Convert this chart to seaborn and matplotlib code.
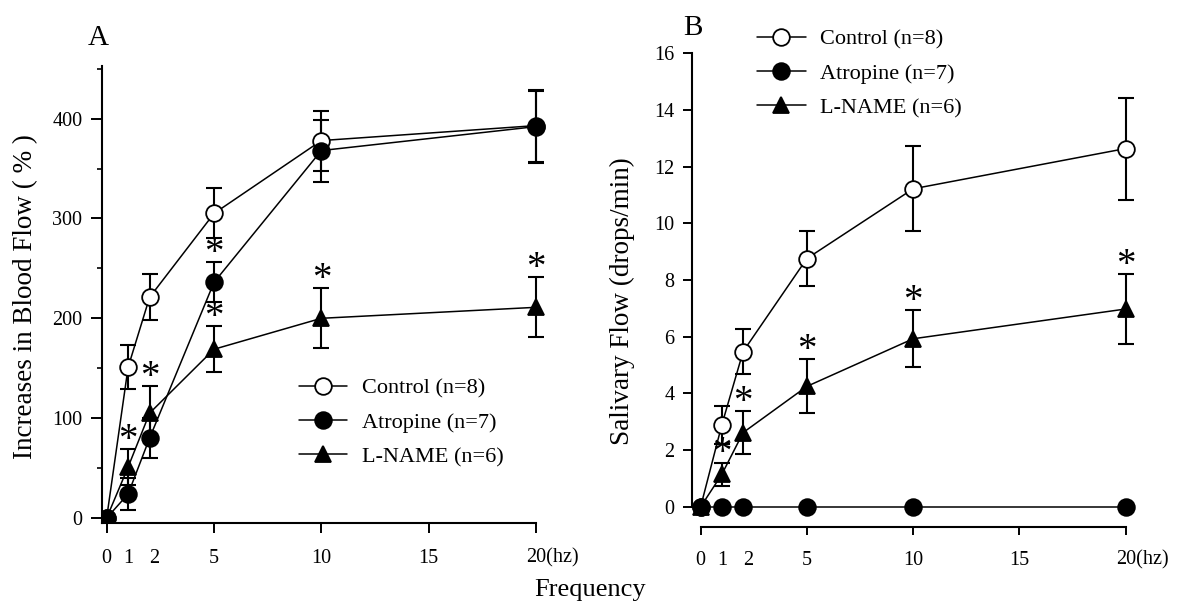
import matplotlib
matplotlib.use("Agg")
import matplotlib.pyplot as plt
import matplotlib.transforms as mtrans
import seaborn as sns

# ---------------- data ----------------
freq = [0, 1, 2, 5, 10, 20]
series = ["Control (n=8)", "Atropine (n=7)", "L-NAME (n=6)"]

# Panel A: increases in blood flow (%)
ctrl_A = [0, 151, 221, 305, 378, 393]
ctrl_A_err = [0, 22, 23, 25, 30, 36]
atr_A = [0, 24, 80, 236, 368, 392]
atr_A_err = [0, 16, 20, 20, 31, 36]
lname_A = [0, 51, 105, 169, 200, 211]
lname_A_err = [0, 18, 27, 23, 30, 30]

# Panel B: salivary flow (drops/min)
ctrl_B = [0, 2.9, 5.48, 8.76, 11.22, 12.64]
ctrl_B_err = [0, 0.67, 0.8, 0.97, 1.5, 1.8]
atr_B = [0, 0, 0, 0, 0, 0]
atr_B_err = [0, 0, 0, 0, 0, 0]
lname_B = [0, 1.15, 2.62, 4.25, 5.93, 6.98]
lname_B_err = [0, 0.41, 0.75, 0.95, 1.0, 1.23]

# significance marks (frequency values flagged with *)
sig_A = {"Atropine (n=7)": [5], "L-NAME (n=6)": [1, 2, 5, 10, 20]}
sig_B = {"L-NAME (n=6)": [1, 2, 5, 10, 20]}

xtick_vals = [0, 1, 2, 5, 10, 15, 20]
xtick_labels = ["0", "1", "2", "5", "10", "15", "20(hz)"]

# ---------------- style ----------------
sns.set_style("ticks")
plt.rcParams['font.family'] = ['Liberation Serif', 'DejaVu Serif']
plt.rcParams['axes.linewidth'] = 1.5
for k in ['text.color', 'axes.labelcolor', 'xtick.color', 'ytick.color',
          'axes.edgecolor']:
    plt.rcParams[k] = 'black'

styles = {
    "Control (n=8)": dict(marker="o", markerfacecolor="white"),
    "Atropine (n=7)": dict(marker="o", markerfacecolor="black"),
    "L-NAME (n=6)": dict(marker="^", markerfacecolor="black"),
}

fig = plt.figure(figsize=(11.84, 6.07), dpi=100)
axA = fig.add_axes([0.0859, 0.1384, 0.385, 0.7534])
axB = fig.add_axes([0.5842, 0.1318, 0.3845, 0.7804])


def draw(ax, data, sig):
    handles = []
    for name, (m, e) in data.items():
        ax.errorbar(freq, m, yerr=e, fmt="none", ecolor="black",
                    elinewidth=1.5, capsize=6, capthick=1.5, zorder=2)
        sns.lineplot(x=freq, y=m, ax=ax, color="black", linewidth=1.1,
                     markersize=12, markeredgecolor="black",
                     markeredgewidth=1.3, zorder=3, **styles[name])
        line = ax.lines[-1]
        line.set_label(name)
        handles.append(line)
    for name, xs in sig.items():
        m, e = data[name]
        for xv in xs:
            i = freq.index(xv)
            ax.annotate("*", (xv, m[i] + e[i]), xytext=(0, -0.5),
                        textcoords="offset points", ha="center",
                        va="baseline", fontsize=28)
    return handles


hA = draw(axA, {series[0]: (ctrl_A, ctrl_A_err),
                series[1]: (atr_A, atr_A_err),
                series[2]: (lname_A, lname_A_err)}, sig_A)
hB = draw(axB, {series[0]: (ctrl_B, ctrl_B_err),
                series[1]: (atr_B, atr_B_err),
                series[2]: (lname_B, lname_B_err)}, sig_B)


def style_axes(ax, xlim, ylim, yticks, yminor, ybounds, xbounds, ylen, xlen):
    ax.set_xlim(*xlim)
    ax.set_ylim(*ylim)
    ax.set_yticks(yticks)
    if yminor:
        ax.set_yticks(yminor, minor=True)
    ax.set_xticks(xtick_vals)
    ax.set_xticklabels(xtick_labels)
    for s in ["top", "right"]:
        ax.spines[s].set_visible(False)
    ax.spines["left"].set_bounds(*ybounds)
    ax.spines["bottom"].set_bounds(*xbounds)
    ax.tick_params(axis="y", which="major", direction="out", length=ylen,
                   width=1.4, labelsize=14.5, pad=6)
    ax.tick_params(axis="y", which="minor", direction="out", length=3.5,
                   width=1.2)
    ax.tick_params(axis="x", which="major", direction="out", length=xlen,
                   width=1.4, labelsize=14.5, pad=11)
    ticks = ax.xaxis.get_major_ticks()
    for i in (1, 2):
        ticks[i].tick1line.set_visible(False)
    labels = ax.get_xticklabels()
    labels[2].set_transform(labels[2].get_transform() +
                            mtrans.ScaledTranslation(5 / 100, 0, fig.dpi_scale_trans))
    labels[-1].set_horizontalalignment("left")
    labels[-1].set_transform(labels[-1].get_transform() +
                             mtrans.ScaledTranslation(-10 / 100, 0, fig.dpi_scale_trans))


style_axes(axA, (-0.23, 21), (-5, 453), [0, 100, 200, 300, 400],
           [50, 150, 250, 350, 450], (-5, 453), (-0.23, 20), 8, 7.5)
style_axes(axB, (-0.42, 21), (-0.71, 16), list(range(0, 17, 2)),
           None, (0, 16), (0, 20), 6.5, 6)

axA.set_ylabel("Increases in Blood Flow ( % )", fontsize=19.5)
axA.yaxis.set_label_coords(38 / 1184, 1 - 297 / 607, transform=fig.transFigure)
axB.set_ylabel("Salivary Flow (drops/min)", fontsize=19.5)
axB.yaxis.set_label_coords(635 / 1184, 1 - 301 / 607, transform=fig.transFigure)
axA.set_xlabel("")
axB.set_xlabel("")

fig.text(590 / 1184, 1 - 590 / 607, "Frequency", fontsize=19,
         ha="center", va="center")
fig.text(88 / 1184, 1 - 45 / 607, "A", fontsize=21, ha="left", va="baseline")
fig.text(683 / 1184, 1 - 35 / 607, "B", fontsize=21, ha="left", va="baseline")

leg_kw = dict(frameon=False, fontsize=16, handlelength=2.2, handletextpad=0.65,
              labelspacing=0.62, borderpad=0, borderaxespad=0, loc="upper left")
axA.legend(handles=hA, bbox_to_anchor=(298.5 / 1184, 1 - 378 / 607),
           bbox_transform=fig.transFigure, **leg_kw)
axB.legend(handles=hB, bbox_to_anchor=(756.7 / 1184, 1 - 29 / 607),
           bbox_transform=fig.transFigure, **leg_kw)

fig.savefig("out.png", dpi=100)
